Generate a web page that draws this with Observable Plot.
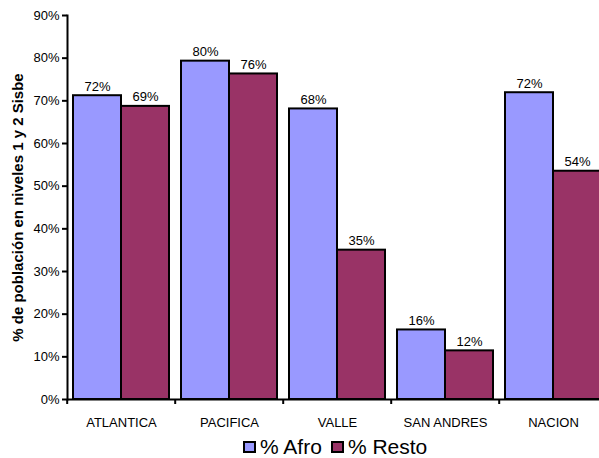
<!DOCTYPE html>
<html>
<head>
<meta charset="utf-8">
<script src="https://cdn.jsdelivr.net/npm/d3@7"></script>
<script src="https://cdn.jsdelivr.net/npm/@observablehq/plot@0.6"></script>
<style>
  html, body { margin: 0; padding: 0; background: #fff; overflow: hidden; }
  #chart { width: 599px; height: 458px; position: relative; overflow: hidden; font-family: "Liberation Sans", Arial, sans-serif; }
  #legend { position: absolute; left: 243px; top: 436px; display: flex; align-items: center; font-size: 21px; color: #000; line-height: 22px; }
  .sw { display: inline-block; width: 9px; height: 8px; border: 2px solid #000; margin-right: 4px; }
  .item { display: flex; align-items: center; margin-right: 9px; }
</style>
</head>
<body>
<div id="chart"></div>
<script>
const categories = ["ATLANTICA", "PACIFICA", "VALLE", "SAN ANDRES", "NACION"];
const series = ["% Afro", "% Resto"];
const afroValues = [71.2, 79.3, 68.1, 16.3, 71.9];
const restoValues = [68.7, 76.3, 35.0, 11.4, 53.5];
const afroLabels = ["72%", "80%", "68%", "16%", "72%"];
const restoLabels = ["69%", "76%", "35%", "12%", "54%"];
const yTicks = [0, 10, 20, 30, 40, 50, 60, 70, 80, 90];
const colors = ["#9999FF", "#993366"];
const yTitle = "% de población en niveles 1 y 2 Sisbe";

const data = [];
categories.forEach((c, i) => {
  data.push({cat: c, series: series[0], value: afroValues[i], label: afroLabels[i]});
  data.push({cat: c, series: series[1], value: restoValues[i], label: restoLabels[i]});
});

const width = 599, marginLeft = 65, marginRight = -9;
const step = (width - marginRight - marginLeft) / categories.length;

const plot = Plot.plot({
  width,
  height: 438,
  marginTop: 15,
  marginBottom: 39,
  marginLeft,
  marginRight,
  style: {fontFamily: "Liberation Sans, Arial, sans-serif", fontSize: "13px", color: "#000", background: "transparent", overflow: "visible"},
  fx: {domain: categories, paddingInner: 0, paddingOuter: 0, label: null},
  x: {domain: series, paddingInner: 0, paddingOuter: 0.11, axis: null},
  y: {domain: [0, 90], label: null},
  color: {domain: series, range: colors},
  marks: [
    Plot.barY(data, {fx: "cat", x: "series", y: "value", fill: "series", stroke: "#000", strokeWidth: 2}),
    Plot.text(data, {fx: "cat", x: "series", y: "value", text: "label", lineAnchor: "bottom", dy: -5, fontSize: 13, fill: "#000"}),
    Plot.ruleY([0], {stroke: "#000", strokeWidth: 2}),
    Plot.frame({anchor: "left", stroke: "#000", strokeWidth: 2, facetAnchor: "left"}),
    Plot.axisY({ticks: yTicks, tickSize: 5, tickPadding: 3, tickFormat: d => d + "%", fontSize: 13, label: null, strokeWidth: 2}),
    Plot.axisY({ticks: yTicks, tickSize: 0, tickFormat: () => "", label: yTitle, labelAnchor: "center", labelArrow: "none", labelOffset: 55, fontWeight: "bold", fontSize: 15}),
    Plot.axisFx({anchor: "bottom", tickSize: 0, tickPadding: 18, fontSize: 13, label: null}),
    Plot.axisFx({anchor: "bottom", tickSize: 5, tickFormat: null, dx: -step / 2, label: null, strokeWidth: 2})
  ]
});
document.getElementById("chart").appendChild(plot);

const legend = document.createElement("div");
legend.id = "legend";
series.forEach((s, i) => {
  const item = document.createElement("span");
  item.className = "item";
  const sw = document.createElement("span");
  sw.className = "sw";
  sw.style.background = colors[i];
  item.appendChild(sw);
  item.appendChild(document.createTextNode(s));
  legend.appendChild(item);
});
document.getElementById("chart").appendChild(legend);
</script>
</body>
</html>
